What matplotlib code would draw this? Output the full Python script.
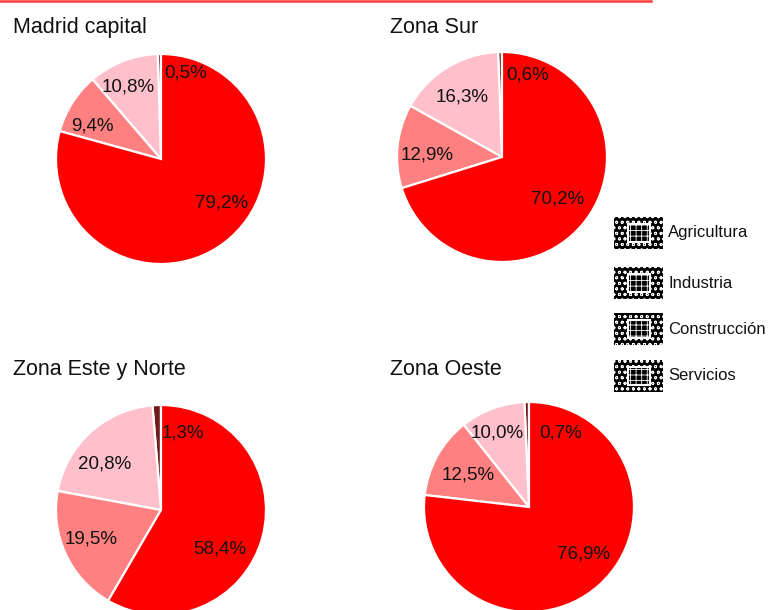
import matplotlib
matplotlib.use("Agg")
import matplotlib.pyplot as plt
from matplotlib.patches import Rectangle

# ---- data ----
categories = ["Agricultura", "Industria", "Construcción", "Servicios"]
titles = ["Madrid capital", "Zona Sur", "Zona Este y Norte", "Zona Oeste"]
madrid = [0.5, 10.8, 9.4, 79.2]
sur = [0.6, 16.3, 12.9, 70.2]
este_norte = [1.3, 20.8, 19.5, 58.4]
oeste = [0.7, 10.0, 12.5, 76.9]
series = [madrid, sur, este_norte, oeste]

# ---- style / layout ----
colors = ["#6e1c1c", "#ffc0cb", "#ff8080", "#ff0000"]
W, H = 771, 610
R = 105
centers = [(161, 159), (502, 157), (161, 510), (529, 507)]
title_pos = [(13, 33), (390, 33), (13, 375), (390, 375)]
# label offsets (in radius units) relative to the pie centre
label_offsets = [
    [(0.23, 0.82), (-0.31, 0.69), (-0.65, 0.31), (0.58, -0.42)],
    [(0.245, 0.78), (-0.38, 0.57), (-0.71, 0.02), (0.53, -0.40)],
    [(0.21, 0.73), (-0.54, 0.44), (-0.67, -0.28), (0.56, -0.37)],
    [(0.30, 0.70), (-0.30, 0.70), (-0.58, 0.30), (0.52, -0.45)],
]

plt.rcParams['font.family'] = ['Liberation Sans', 'DejaVu Sans']
plt.rcParams['hatch.linewidth'] = 0.6

fig = plt.figure(figsize=(W / 100, H / 100), dpi=100)
fig.patch.set_facecolor("white")

# top red rule
fig.add_artist(plt.Line2D([0, 651 / W], [1 - 1 / H, 1 - 1 / H], color="#ff3b3b",
                          linewidth=1.8, transform=fig.transFigure))

def fmt(v):
    return f"{v:.1f}".replace(".", ",") + "%"

for vals, (cx, cy), title, (tx, ty), offs in zip(series, centers, titles, title_pos, label_offsets):
    ax = fig.add_axes([(cx - R) / W, (H - cy - R) / H, 2 * R / W, 2 * R / H])
    ax.pie(vals, colors=colors, startangle=90, counterclock=True, radius=1,
           wedgeprops=dict(edgecolor="white", linewidth=1.6))
    ax.set_xlim(-1, 1)
    ax.set_ylim(-1, 1)
    ax.set_aspect("equal")
    ax.axis("off")
    for v, (ox, oy) in zip(vals, offs):
        ax.text(ox, oy, fmt(v), ha="center", va="center", fontsize=13.5, color="#111111")
    fig.text(tx / W, 1 - ty / H, title, ha="left", va="baseline", fontsize=15.5, color="#111111")

# legend with patterned markers
leg_ax = fig.add_axes([0, 0, 1, 1], facecolor="none")
leg_ax.set_xlim(0, W)
leg_ax.set_ylim(H, 0)
leg_ax.axis("off")
leg_y = [233, 283, 329, 376]
for cat, y in zip(categories, leg_y):
    leg_ax.add_patch(Rectangle((614, y - 16), 49, 32, facecolor="black",
                               edgecolor="white", hatch="ooo", linewidth=0))
    leg_ax.add_patch(Rectangle((628, y - 9), 22, 18, facecolor="black",
                               edgecolor="white", hatch="+++", linewidth=0))
    leg_ax.add_patch(Rectangle((628, y - 9), 22, 18, facecolor="none",
                               edgecolor="white", linewidth=1.5))
    leg_ax.text(668, y, cat, ha="left", va="center", fontsize=12, color="#111111")

fig.savefig("out.png", dpi=100, facecolor="white")
